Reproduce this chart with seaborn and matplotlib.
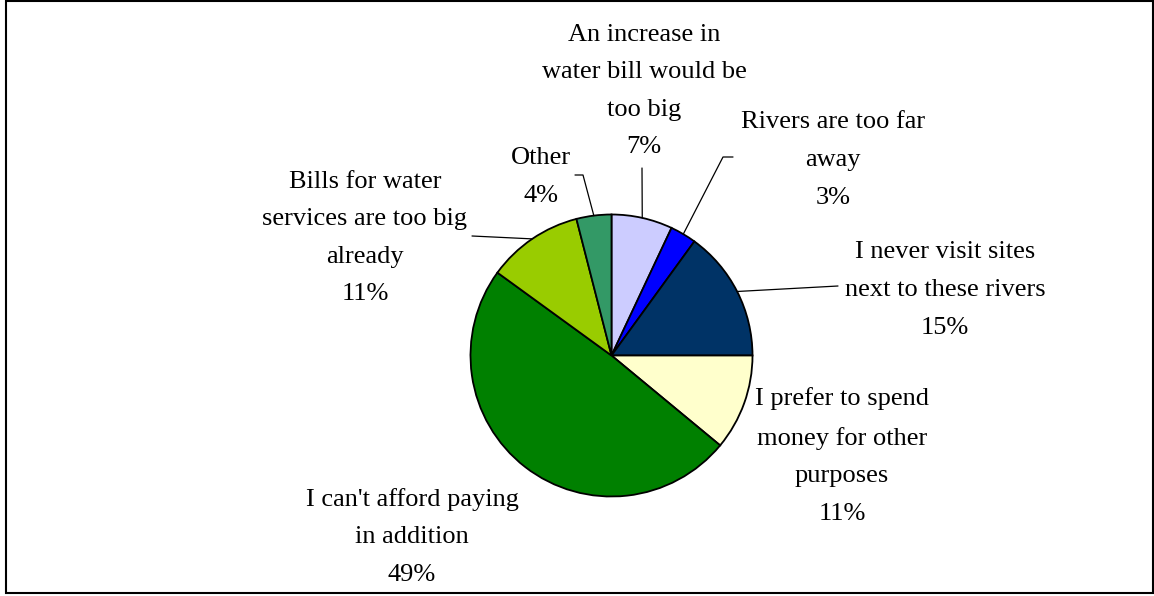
import matplotlib
matplotlib.use("Agg")
import matplotlib.pyplot as plt
import seaborn as sns
from matplotlib.patches import Rectangle
import numpy as np

# Survey answers: reasons for not being willing to pay
reasons = [
    "An increase in\nwater bill would be\ntoo big",
    "Rivers are too far\naway",
    "I never visit sites\nnext to these rivers",
    "I prefer to spend\nmoney for other\npurposes",
    "I can't afford paying\nin addition",
    "Bills for water\nservices are too big\nalready",
    "Other",
]
shares = [7, 3, 15, 11, 49, 11, 4]
colors = ["#CCCCFF", "#0000FF", "#003366", "#FFFFCC", "#008000", "#99CC00", "#339966"]

# Label placement in pixel coordinates (x centre, block centre y from top)
label_pos = [(644, 91), (833, 160), (945, 290), (842, 456), (412, 537), (365, 238), (541, 177)]
# Leader-line bends (pixel coords from top); None means no leader
leaders = [
    [(642, 168)],
    [(723, 157), (733, 157)],
    [(838, 286)],
    None,
    None,
    [(472, 236)],
    [(583, 175), (575, 175)],
]

W, H = 1154, 596
sns.set_theme(style="white")
plt.rcParams["font.family"] = ["Liberation Serif", "DejaVu Serif"]

fig = plt.figure(figsize=(W / 100, H / 100), dpi=100)
ax = fig.add_axes([0, 0, 1, 1])

cx, cy, r = 611.5, H - 355.5, 141
wedges, _ = ax.pie(
    shares,
    colors=colors,
    startangle=90,
    counterclock=False,
    center=(cx, cy),
    radius=r,
    wedgeprops=dict(edgecolor="black", linewidth=1.3),
)
ax.set_xlim(0, W)
ax.set_ylim(0, H)
ax.set_aspect("equal")
ax.axis("off")

for w, reason, share, (lx, ly), bends in zip(wedges, reasons, shares, label_pos, leaders):
    ax.text(lx, H - ly, f"{reason}\n{share}%", ha="center", va="center",
            multialignment="center", fontsize=19, linespacing=1.92, color="black")
    if bends:
        mid = np.deg2rad((w.theta1 + w.theta2) / 2)
        xs = [cx + r * np.cos(mid)] + [b[0] for b in bends]
        ys = [cy + r * np.sin(mid)] + [H - b[1] for b in bends]
        ax.plot(xs, ys, color="black", lw=0.9)

# Chart-area frame
fig.patches.append(Rectangle((6, 3), 1147, 592, transform=None, fill=False,
                             edgecolor="black", lw=1.5))

fig.savefig("out.png", dpi=100)
